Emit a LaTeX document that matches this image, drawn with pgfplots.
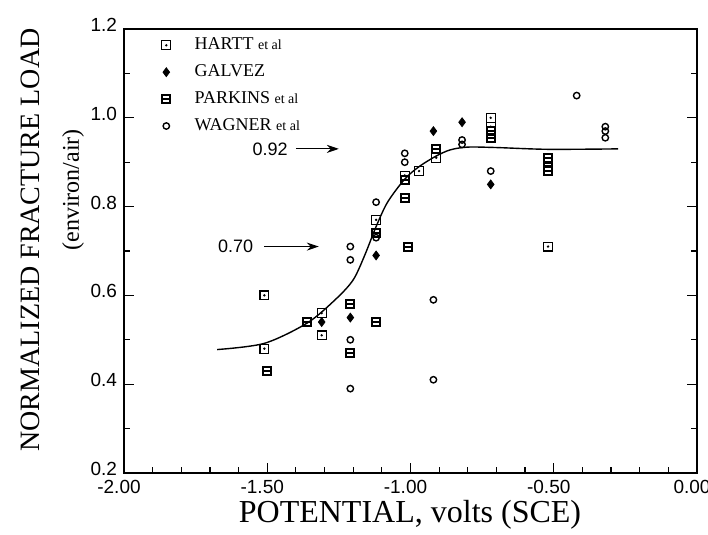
\documentclass[border=0pt]{standalone}
\usepackage{fontspec}
\setmainfont{Liberation Serif}
\setsansfont{Liberation Sans}
\usepackage{pgfplots}
\pgfplotsset{compat=1.18}
\usetikzlibrary{arrows.meta}

\pgfdeclareplotmark{hartt}{%
  \pgfpathrectangle{\pgfqpoint{-\pgfplotmarksize}{-\pgfplotmarksize}}{\pgfqpoint{2\pgfplotmarksize}{2\pgfplotmarksize}}%
  \pgfusepathqstroke
  \pgfpathcircle{\pgfpointorigin}{0.3\pgfplotmarksize}%
  \pgfusepathqfill}
\pgfdeclareplotmark{parkins}{%
  \pgfpathrectangle{\pgfqpoint{-\pgfplotmarksize}{-\pgfplotmarksize}}{\pgfqpoint{2\pgfplotmarksize}{2\pgfplotmarksize}}%
  \pgfusepathqstroke
  \pgfpathmoveto{\pgfqpoint{-\pgfplotmarksize}{0pt}}%
  \pgfpathlineto{\pgfqpoint{\pgfplotmarksize}{0pt}}%
  \pgfusepathqstroke}

\pgfplotstableread{
V L
-1.51 0.60
-1.51 0.48
-1.31 0.56
-1.31 0.51
-1.12 0.77
-1.02 0.87
-0.97 0.88
-0.91 0.91
-0.72 1.00
-0.72 0.98
-0.52 0.71
}\hartt
\pgfplotstableread{
V L
-1.31 0.54
-1.21 0.55
-1.12 0.69
-0.92 0.97
-0.82 0.99
-0.72 0.85
}\galvez
\pgfplotstableread{
V L
-1.50 0.43
-1.36 0.54
-1.21 0.58
-1.21 0.47
-1.12 0.54
-1.12 0.74
-1.02 0.86
-1.02 0.82
-1.01 0.71
-0.91 0.93
-0.72 0.97
-0.72 0.955
-0.52 0.91
-0.52 0.90
-0.52 0.89
-0.52 0.88
}\parkins
\pgfplotstableread{
V L
-1.21 0.71
-1.21 0.68
-1.21 0.50
-1.21 0.39
-1.12 0.81
-1.12 0.73
-1.02 0.92
-1.02 0.90
-0.92 0.59
-0.92 0.41
-0.82 0.95
-0.82 0.94
-0.72 0.88
-0.42 1.05
-0.32 0.98
-0.32 0.97
-0.32 0.955
}\wagner

\begin{document}
\begin{tikzpicture}
\useasboundingbox (-62pt,-31pt) rectangle (292pt,236.5pt);
\begin{axis}[
  scale only axis, width=286.5pt, height=222pt,
  xmin=-2, xmax=0, ymin=0.2, ymax=1.2,
  xtick={-2,-1.5,-1,-0.5,0}, minor x tick num=4,
  ytick={0.2,0.4,0.6,0.8,1.0,1.2}, minor y tick num=1,
  xtick pos=left,
  tick align=inside,
  major tick length=5pt, minor tick length=3pt,
  every tick/.style={black, line width=0.6pt},
  axis line style={line width=0.7pt},
  /pgf/number format/assume math mode=true,
  ticklabel style={font=\sffamily\fontsize{9.5}{11}\selectfont},
  xticklabel style={xshift=-2.5pt,/pgf/number format/fixed,/pgf/number format/fixed zerofill,/pgf/number format/precision=2},
  yticklabel style={yshift=2pt,/pgf/number format/fixed,/pgf/number format/fixed zerofill,/pgf/number format/precision=1},
  legend style={at={(axis description cs:0.055,0.999)}, anchor=north west, draw=none, fill=none,
    font=\fontsize{9}{11}\selectfont, row sep=2pt},
  legend cell align=left,
]
\addplot[smooth, line width=0.7pt, forget plot] coordinates {
(-1.675,0.478) (-1.51,0.492) (-1.36,0.538) (-1.26,0.592) (-1.20,0.635) (-1.16,0.690)
(-1.12,0.755) (-1.08,0.810) (-1.02,0.862) (-0.97,0.890) (-0.91,0.914) (-0.86,0.928)
(-0.80,0.934) (-0.70,0.933) (-0.52,0.929) (-0.275,0.930)};

\addplot[only marks, mark=hartt, mark size=2.2pt, mark options={line width=0.55pt}] table {\hartt};
\addlegendentry{\hspace*{10pt}HARTT {\fontsize{7}{8}\selectfont et al}}
\addplot[only marks, mark=diamond*, mark size=2.2pt, mark options={fill=black}] table {\galvez};
\addlegendentry{\hspace*{10pt}GALVEZ}
\addplot[only marks, mark=parkins, mark size=2pt, mark options={line width=1pt}] table {\parkins};
\addlegendentry{\hspace*{10pt}PARKINS {\fontsize{7}{8}\selectfont et al}}
\addplot[only marks, mark=o, mark size=1.6pt, mark options={line width=0.7pt}] table {\wagner};
\addlegendentry{\hspace*{10pt}WAGNER {\fontsize{7}{8}\selectfont et al}}

\node[font=\sffamily\fontsize{9}{11}\selectfont] at (axis cs:-1.49,0.93) {0.92};
\draw[-{Stealth[length=6pt,width=4pt]}, line width=0.6pt] (axis cs:-1.40,0.93) -- (axis cs:-1.25,0.93);
\node[font=\sffamily\fontsize{9}{11}\selectfont] at (axis cs:-1.61,0.71) {0.70};
\draw[-{Stealth[length=6pt,width=4pt]}, line width=0.6pt] (axis cs:-1.51,0.71) -- (axis cs:-1.32,0.71);
\end{axis}
\node[rotate=90, font=\fontsize{14}{16}\selectfont] at (-47pt,116.5pt) {NORMALIZED FRACTURE LOAD};
\node[rotate=90, font=\fontsize{12}{14}\selectfont] at (-25.5pt,141.5pt) {(environ/air)};
\node[font=\fontsize{16}{18}\selectfont] at (143pt,-21pt) {POTENTIAL,\ volts\ (SCE)};
\end{tikzpicture}
\end{document}
